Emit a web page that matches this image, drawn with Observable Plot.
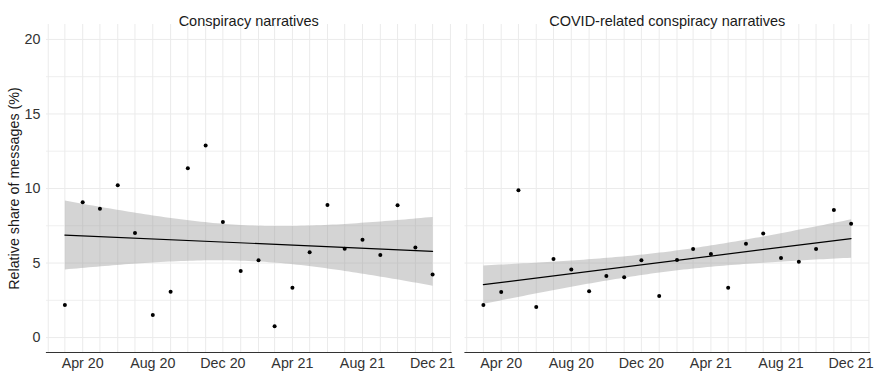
<!DOCTYPE html>
<html><head><meta charset="utf-8">
<script src="https://cdn.jsdelivr.net/npm/d3@7"></script>
<script src="https://cdn.jsdelivr.net/npm/@observablehq/plot@0.6"></script>
<style>
html,body{margin:0;padding:0;background:#fff;}
#chart svg{display:block;}
</style></head><body><div id="chart"></div>
<script>
const months = ["2020-03","2020-04","2020-05","2020-06","2020-07","2020-08","2020-09","2020-10","2020-11","2020-12",
  "2021-01","2021-02","2021-03","2021-04","2021-05","2021-06","2021-07","2021-08","2021-09","2021-10","2021-11","2021-12"];
const panels = ["Conspiracy narratives", "COVID-related conspiracy narratives"];
const conspiracy = [2.18, 9.08, 8.64, 10.21, 7.01, 1.52, 3.08, 11.35, 12.89, 7.75,
  4.47, 5.18, 0.76, 3.35, 5.72, 8.89, 5.96, 6.57, 5.54, 8.87, 6.05, 4.24];
const covidConspiracy = [2.18, 3.06, 9.89, 2.05, 5.27, 4.56, 3.10, 4.13, 4.04, 5.18,
  2.79, 5.20, 5.94, 5.60, 3.35, 6.30, 6.99, 5.34, 5.09, 5.94, 8.55, 7.64];
const xTickMonths = ["2020-04","2020-08","2020-12","2021-04","2021-08","2021-12"];
const yTicks = [0, 5, 10, 15, 20];
const yMinorTicks = [2.5, 7.5, 12.5, 17.5];
const yLabel = "Relative share of messages (%)";

const parse = d3.utcParse("%Y-%m");
const rows = [];
months.forEach((m, i) => {
  rows.push({panel: panels[0], date: parse(m), value: conspiracy[i]});
  rows.push({panel: panels[1], date: parse(m), value: covidConspiracy[i]});
});
const dates = months.map(parse);
const [d0, d1] = d3.extent(dates);
const padX = (d1 - d0) * 0.05;
const xDomain = [new Date(+d0 - padX), new Date(+d1 + padX)];
const gridMonths = d3.utcMonth.range(xDomain[0], xDomain[1]);
const [y0, y1] = d3.extent(yTicks);
const padY = (y1 - y0) * 0.05;
const yDomain = [y0 - padY, y1 + padY];
const xTicks = xTickMonths.map(parse);

const chart = Plot.plot({
  width: 876, height: 373,
  marginLeft: 46, marginRight: 7, marginTop: 24, marginBottom: 21,
  style: {fontFamily: "'Liberation Sans', Arial, sans-serif", fontSize: "14px", color: "#1a1a1a", background: "#fff"},
  fx: {domain: panels, paddingInner: 0.0335, paddingOuter: 0, round: false, axis: null, label: null},
  x: {type: "utc", domain: xDomain},
  y: {domain: yDomain},
  marks: [
    Plot.gridY({ticks: yMinorTicks, stroke: "#EBEBEB", strokeOpacity: 1, strokeWidth: 0.8}),
    Plot.gridY({ticks: yTicks, stroke: "#EBEBEB", strokeOpacity: 1, strokeWidth: 1}),
    Plot.gridX({ticks: gridMonths, stroke: "#EBEBEB", strokeOpacity: 1, strokeWidth: 1}),
    Plot.linearRegressionY(rows, {fx: "panel", x: "date", y: "value", ci: 0.9, fill: "#999999", fillOpacity: 0.42, stroke: "black", strokeWidth: 1.2}),
    Plot.dot(rows, {fx: "panel", x: "date", y: "value", r: 2, fill: "black", stroke: "none"}),
    Plot.frame({anchor: "bottom", stroke: "#333", strokeWidth: 1.2}),
    Plot.axisY({ticks: yTicks, tickSize: 0, tickPadding: 6, label: null, fill: "#333", fontSize: 14.3}),
    Plot.axisX({ticks: xTicks, tickSize: 0, tickPadding: 5, tickFormat: d3.utcFormat("%b %y"), label: null, fill: "#333", fontSize: 14.3}),
    Plot.text(panels, {fx: d => d, text: d => d, frameAnchor: "top", dy: -9, fontSize: 14.5, fill: "#1a1a1a"}),
    Plot.text([yLabel], {fx: () => panels[0], text: d => d, frameAnchor: "left", textAnchor: "middle", rotate: -90, dx: -32, fontSize: 14.3, fill: "#1a1a1a"})
  ]
});
document.getElementById("chart").append(chart);
</script>
</body></html>
